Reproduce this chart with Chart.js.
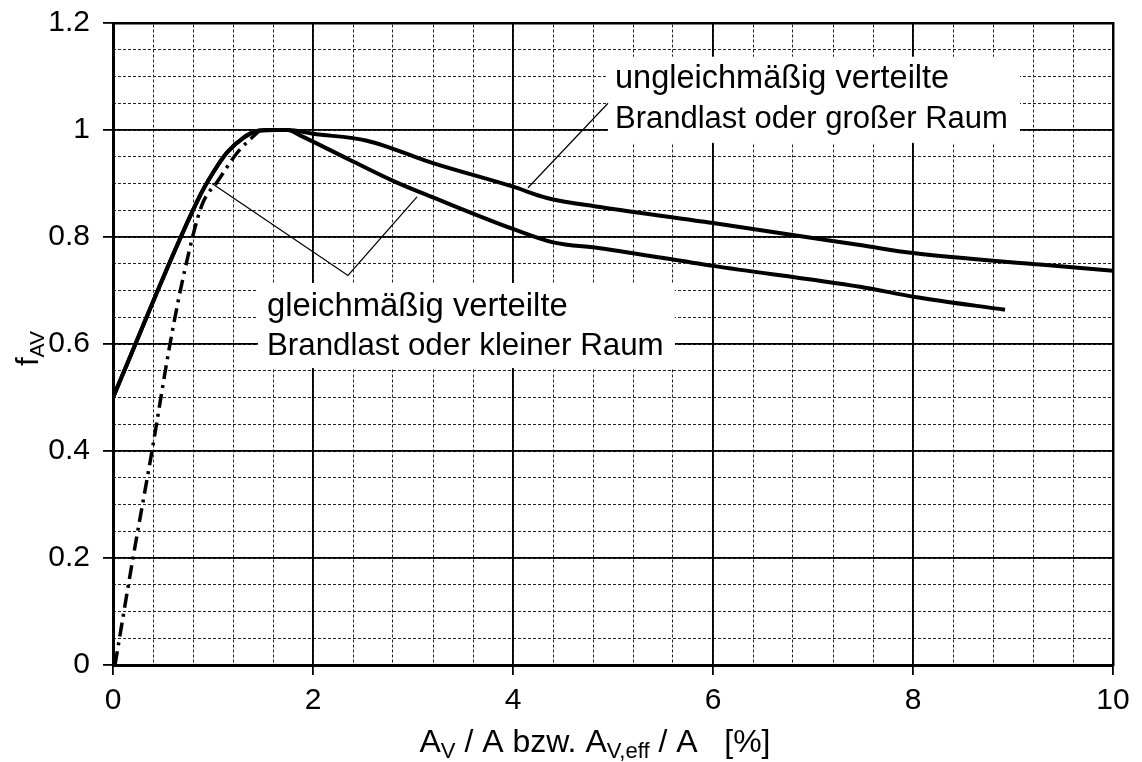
<!DOCTYPE html>
<html><head><meta charset="utf-8">
<script src="https://cdn.jsdelivr.net/npm/chart.js@4/dist/chart.umd.min.js"></script>
<style>html,body{margin:0;padding:0;background:#fff;} canvas{display:block;}</style>
</head><body>
<canvas id="c" width="1142" height="762"></canvas>
<script>
const xTickLabels = ['0','2','4','6','8','10'];
const yTickLabels = ['0','0.2','0.4','0.6','0.8','1','1.2'];

// solid curve: gleichmäßig verteilte Brandlast oder kleiner Raum
const smallRoomX = [0, 0.85, 1.0, 1.14, 1.3, 1.44, 1.6, 1.75, 1.87, 2.37, 2.8, 3.2, 4.0, 4.4, 4.87, 6.0, 7.47, 8.02, 8.92];
const smallRoomY = [0.5, 0.87, 0.92, 0.958, 0.985, 0.998, 1.0, 1.0, 0.99, 0.944, 0.905, 0.874, 0.815, 0.79, 0.779, 0.746, 0.707, 0.688, 0.664];
// solid curve: ungleichmäßig verteilte Brandlast oder großer Raum
const largeRoomX = [0, 0.85, 1.0, 1.14, 1.3, 1.44, 1.6, 1.75, 2.0, 2.54, 3.2, 4.0, 4.34, 4.87, 6.0, 7.47, 8.0, 9.3, 10];
const largeRoomY = [0.5, 0.87, 0.92, 0.958, 0.985, 0.998, 1.0, 1.0, 0.993, 0.98, 0.938, 0.894, 0.873, 0.856, 0.826, 0.785, 0.77, 0.748, 0.737];
// dash-dot curve
const dashDotX = [0.02, 0.2, 0.39, 0.57, 0.72, 0.89, 1.05, 1.24, 1.47];
const dashDotY = [0, 0.2, 0.4, 0.6, 0.74, 0.86, 0.905, 0.957, 1.0];
// leader lines of the two annotations
const leaderSmallX = [0.99, 2.35, 3.04];
const leaderSmallY = [0.9, 0.728, 0.875];
const leaderLargeX = [4.15, 4.95];
const leaderLargeY = [0.892, 1.05];

const annotLines1 = ['ungleichmäßig verteilte', 'Brandlast oder großer Raum'];
const annotLines2 = ['gleichmäßig verteilte', 'Brandlast oder kleiner Raum'];

const FONT = "'Liberation Sans', Arial, sans-serif";

function pts(xs, ys){ return xs.map((v,i)=>({x:v, y:ys[i]})); }

const annotPlugin = {
  id: 'annot',
  beforeDatasetsDraw(chart){
    const {ctx, scales:{x, y}} = chart;
    const boxes = [[4.95, 9.07, 1.137, 0.976], [1.45, 5.62, 0.714, 0.555]];
    ctx.save();
    ctx.fillStyle = '#fff';
    boxes.forEach(b => {
      const x0 = x.getPixelForValue(b[0]), x1 = x.getPixelForValue(b[1]);
      const y0 = y.getPixelForValue(b[2]), y1 = y.getPixelForValue(b[3]);
      ctx.fillRect(x0, y0, x1 - x0, y1 - y0);
    });
    ctx.restore();
  },
  afterDatasetsDraw(chart){
    const {ctx, scales:{x, y}} = chart;
    ctx.save();
    ctx.fillStyle = '#000';
    ctx.textBaseline = 'alphabetic';
    ctx.textAlign = 'left';
    const sizes = [32.5, 31];
    const a1x = x.getPixelForValue(5.02), a1y = y.getPixelForValue(1.078);
    annotLines1.forEach((t,i) => { ctx.font = sizes[i] + 'px ' + FONT; ctx.fillText(t, a1x, a1y + i*40); });
    const a2x = x.getPixelForValue(1.54), a2y = y.getPixelForValue(0.652);
    annotLines2.forEach((t,i) => { ctx.font = (sizes[i] + 0.3) + 'px ' + FONT; ctx.fillText(t, a2x, a2y + i*39); });
    ctx.restore();
  },
  afterDraw(chart){
    const {ctx} = chart;
    ctx.save();
    ctx.fillStyle = '#000';
    ctx.textBaseline = 'alphabetic';
    ctx.textAlign = 'left';
    // y title f_AV
    ctx.translate(38, 366);
    ctx.rotate(-Math.PI/2);
    ctx.font = '31px ' + FONT;
    ctx.fillText('f', 0, 0);
    const fw = ctx.measureText('f').width;
    ctx.font = '21px ' + FONT;
    ctx.fillText('AV', fw, 6);
    ctx.restore();

    // x title
    ctx.save();
    ctx.fillStyle = '#000';
    ctx.textBaseline = 'alphabetic';
    const segs = [['A', false], ['V', true], [' / A bzw. A', false], ['V,eff', true], [' / A   [%]', false]];
    const big = '32px ' + FONT, small = '22px ' + FONT;
    let total = 0;
    segs.forEach(s => { ctx.font = s[1] ? small : big; total += ctx.measureText(s[0]).width; });
    let cx = 595 - total/2;
    const by = 752;
    segs.forEach(s => {
      ctx.font = s[1] ? small : big;
      ctx.fillText(s[0], cx, s[1] ? by + 6 : by);
      cx += ctx.measureText(s[0]).width;
    });
    ctx.restore();
  }
};

const lineBase = {showLine: true, pointRadius: 0, borderColor: '#000', fill: false};

function noPad(s){ s.paddingTop = 0; s.paddingBottom = 0; s.paddingLeft = 0; s.paddingRight = 0; }

new Chart(document.getElementById('c'), {
  type: 'scatter',
  data: {
    datasets: [
      Object.assign({data: pts(largeRoomX, largeRoomY), borderWidth: 4, cubicInterpolationMode: 'monotone'}, lineBase),
      Object.assign({data: pts(smallRoomX, smallRoomY), borderWidth: 4, cubicInterpolationMode: 'monotone'}, lineBase),
      Object.assign({data: pts(dashDotX, dashDotY), borderWidth: 3.5, borderDash: [14, 6, 3, 6], cubicInterpolationMode: 'monotone'}, lineBase),
      Object.assign({data: pts(leaderSmallX, leaderSmallY), borderWidth: 1.2, tension: 0}, lineBase),
      Object.assign({data: pts(leaderLargeX, leaderLargeY), borderWidth: 1.2, tension: 0}, lineBase)
    ]
  },
  options: {
    responsive: false,
    animation: false,
    devicePixelRatio: 1,
    layout: {padding: {top: 23, right: 29, left: 0, bottom: 0}},
    plugins: {legend: {display: false}, tooltip: {enabled: false}},
    scales: {
      x: {
        type: 'linear', position: 'bottom', min: 0, max: 10,
        ticks: {stepSize: 2, callback: v => xTickLabels[Math.round(v/2)], font: {family: FONT, size: 30}, color: '#000', padding: 8, maxRotation: 0, autoSkip: false},
        grid: {color: '#000', lineWidth: 1.8, tickLength: 10, tickWidth: 1.8, tickColor: '#000'},
        border: {color: '#000', width: 3},
        afterFit(s){ s.height = 97; noPad(s); }
      },
      xMinor: {
        type: 'linear', position: 'top', min: 0, max: 10,
        ticks: {stepSize: 0.4, display: false},
        grid: {color: '#222', lineWidth: 1, drawTicks: false, z: -2},
        border: {display: true, color: '#000', width: 2.5, dash: [3, 2]},
        afterFit(s){ s.height = 0; noPad(s); }
      },
      y: {
        type: 'linear', position: 'left', min: 0, max: 1.2,
        ticks: {stepSize: 0.2, callback: v => yTickLabels[Math.round(v/0.2)], font: {family: FONT, size: 30}, color: '#000', padding: 13},
        grid: {color: '#000', lineWidth: 1.8, tickLength: 10, tickWidth: 1.8, tickColor: '#000'},
        border: {color: '#000', width: 3},
        afterFit(s){ s.width = 113; noPad(s); }
      },
      yMinor: {
        type: 'linear', position: 'right', min: 0, max: 1.2,
        ticks: {stepSize: 0.05, display: false},
        grid: {color: '#222', lineWidth: 1, drawTicks: false, z: -2},
        border: {display: true, color: '#000', width: 2.5, dash: [3, 2]},
        afterFit(s){ s.width = 0; noPad(s); }
      }
    }
  },
  plugins: [annotPlugin]
});
</script>
</body></html>
